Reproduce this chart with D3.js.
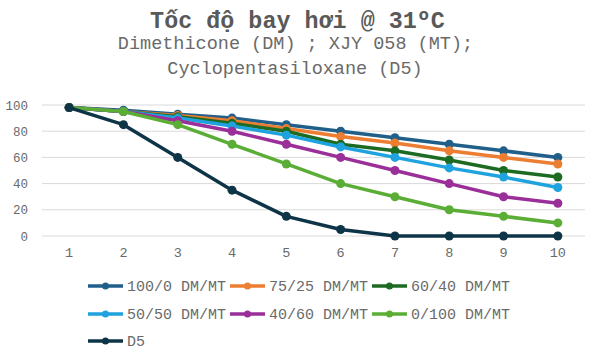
<!DOCTYPE html>
<html><head><meta charset="utf-8">
<script src="https://cdn.jsdelivr.net/npm/d3@7"></script>
<style>body{margin:0;background:#fff;}svg{display:block;}</style>
</head><body>
<svg id="chart" width="600" height="359"></svg>
<script>
const categories = [1,2,3,4,5,6,7,8,9,10];
const seriesNames = ["100/0 DM/MT","75/25 DM/MT","60/40 DM/MT","50/50 DM/MT","40/60 DM/MT","0/100 DM/MT","D5"];
const s100_0  = [98,96,93,90,85,80,75,70,65,60];
const s75_25  = [98,95,92,88,82,76,71,65,60,55];
const s60_40  = [98,95,91,86,80,70,65,58,50,45];
const s50_50  = [98,95,90,84,77,68,60,52,45,37];
const s40_60  = [98,95,88,80,70,60,50,40,30,25];
const s0_100  = [98,95,85,70,55,40,30,20,15,10];
const sD5     = [98,85,60,35,15,5,0,0,0,0];
const yTicks = [0,20,40,60,80,100];
const colors = ["#215F8B","#ED7D31","#1D6B22","#1FA3DE","#9B2F9A","#5BAE35","#0E3447"];
const allSeries = [s100_0,s75_25,s60_40,s50_50,s40_60,s0_100,sD5];

const svg = d3.select("#chart");
const mono = "'Liberation Mono','Courier New',monospace";

// Titles
svg.append("text").attr("x",297.5).attr("y",28).attr("text-anchor","middle")
  .attr("font-family",mono).attr("font-weight","bold").attr("font-size",23.4).attr("fill","#595959")
  .text("Tốc độ bay hơi @ 31ºC");
svg.append("text").attr("x",295.5).attr("y",49).attr("text-anchor","middle")
  .attr("font-family",mono).attr("font-size",18.5).attr("fill","#6a6a6a")
  .text("Dimethicone (DM) ; XJY 058 (MT);");
svg.append("text").attr("x",295).attr("y",74).attr("text-anchor","middle")
  .attr("font-family",mono).attr("font-size",18.5).attr("fill","#6a6a6a")
  .text("Cyclopentasiloxane (D5)");

const x = d3.scaleBand().domain(categories).range([42,585]);
const y = d3.scaleLinear().domain([0,100]).range([236,105]);

// grid
svg.append("g").selectAll("line").data(yTicks).join("line")
  .attr("x1",42).attr("x2",585).attr("y1",d=>y(d)).attr("y2",d=>y(d))
  .attr("stroke","#d9d9d9").attr("stroke-width",1);

// y axis labels
const yAxis = svg.append("g").attr("transform","translate(42,0)")
  .call(d3.axisLeft(y).tickValues(yTicks).tickSize(0).tickPadding(14));
yAxis.select(".domain").remove();
yAxis.selectAll("text").attr("font-family",mono).attr("font-size",12.5).attr("fill","#6a6a6a");

// x axis labels
const xAxis = svg.append("g").attr("transform","translate(0,243)")
  .call(d3.axisBottom(x).tickSize(0).tickPadding(4));
xAxis.select(".domain").remove();
xAxis.selectAll("text").attr("font-family",mono).attr("font-size",13.5).attr("fill","#6a6a6a");

const cx = d => x(d) + x.bandwidth()/2;
const line = d3.line().x((d,i)=>cx(categories[i])).y(d=>y(d));

allSeries.forEach((vals,si)=>{
  const g = svg.append("g");
  g.append("path").datum(vals).attr("d",line).attr("fill","none")
    .attr("stroke",colors[si]).attr("stroke-width",3.5).attr("stroke-linejoin","round");
  g.selectAll("circle").data(vals).join("circle")
    .attr("cx",(d,i)=>cx(categories[i])).attr("cy",d=>y(d)).attr("r",4.5)
    .attr("fill",colors[si]);
});

// legend
const legX = [88,230,372], legY = [286,314,341];
seriesNames.forEach((name,i)=>{
  const col = i%3, row = Math.floor(i/3);
  const lx = legX[col], ly = legY[row];
  const g = svg.append("g");
  g.append("line").attr("x1",lx).attr("x2",lx+35).attr("y1",ly).attr("y2",ly)
    .attr("stroke",colors[i]).attr("stroke-width",3.5);
  g.append("circle").attr("cx",lx+17.5).attr("cy",ly).attr("r",3.5).attr("fill",colors[i]);
  g.append("text").attr("x",lx+39).attr("y",ly+5)
    .attr("font-family",mono).attr("font-size",15).attr("fill","#6a6a6a").text(name);
});
</script>
</body></html>
